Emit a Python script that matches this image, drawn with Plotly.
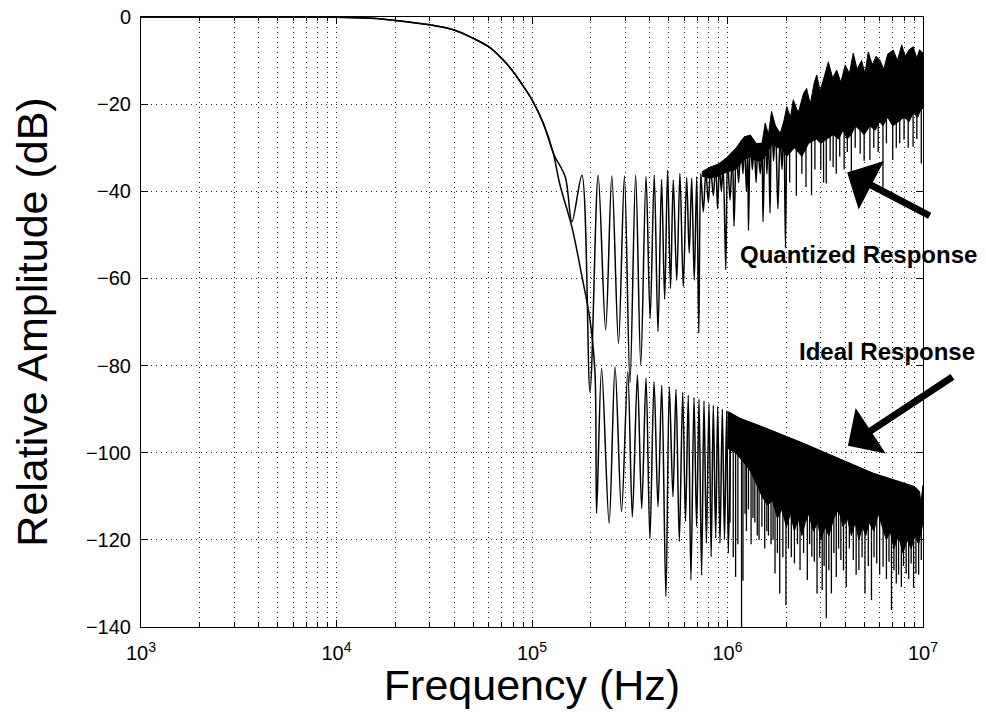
import plotly.graph_objects as go

# ---------------- data ----------------
# shared passband (Hz, dB)
passband_f = [1e3, 5e3, 1e4, 1.5e4, 2e4, 3e4, 4e4, 5e4, 6e4, 7e4, 8e4, 9e4, 1e5, 1.14e5, 1.28e5]
passband_db = [0, 0, -0.05, -0.3, -0.8, -1.8, -3.0, -4.9, -6.8, -9.5, -12.5, -15.8, -19.0, -24.3, -31.0]

# ideal response: transition band and individually visible sidelobes (peak / null)
ideal_stop_f = [1.39e5, 1.6e5, 1.8e5, 1.98e5, 2.1e5,
                2.14e5, 2.27e5, 2.48e5, 2.66e5, 2.87e5, 3.09e5, 3.26e5, 3.46e5, 3.64e5, 3.83e5,
                4.01e5, 4.21e5, 4.41e5, 4.61e5, 4.84e5, 5.04e5, 5.26e5, 5.45e5, 5.67e5, 5.9e5,
                6.1e5, 6.3e5, 6.5e5, 6.74e5, 6.95e5, 7.15e5, 7.37e5, 7.58e5, 7.8e5, 8.04e5,
                8.25e5, 8.46e5, 8.7e5, 8.91e5, 9.15e5, 9.41e5, 9.65e5, 9.9e5, 1.01e6, 1.04e6]
ideal_stop_db = [-38.5, -48.2, -59.5, -69.5, -81.7,
                 -113.9, -80.6, -116.2, -80.3, -113.5, -81.4, -114.7, -82.2, -112.8, -82.9,
                 -119.7, -83.7, -112.4, -84.5, -133.0, -84.9, -110.1, -85.5, -120.4, -86.2,
                 -115.8, -86.8, -129.2, -87.3, -117.0, -87.7, -128.1, -88.1, -120.8, -88.7,
                 -123.9, -89.1, -119.6, -89.4, -120.8, -90.0, -120.0, -90.4, -123.1, -90.8]

# ideal response: dense sidelobe band (upper envelope, solid floor, deep nulls)
ideal_env_f = [1.0e6, 1.16e6, 1.5e6, 1.93e6, 2.5e6, 3.09e6, 4.2e6, 5.57e6, 7.3e6, 9.1e6, 9.6e6, 9.75e6, 1e7]
ideal_env_db = [-90.5, -92.1, -94.0, -95.9, -98.0, -99.8, -102.4, -104.7, -106.4, -107.8, -108.9, -111.5, -107.5]
ideal_floor_f = [1.0e6, 1.1e6, 1.2e6, 1.3e6, 1.4e6, 1.5e6, 1.6e6, 1.7e6, 1.8e6, 1.9e6, 2.0e6, 2.1e6,
                 2.2e6, 2.3e6, 2.4e6, 2.5e6, 2.6e6, 2.75e6, 2.9e6, 3.0e6, 3.15e6, 3.3e6, 3.5e6, 3.7e6,
                 3.9e6, 4.1e6, 4.3e6, 4.5e6, 4.7e6, 4.9e6, 5.1e6, 5.3e6, 5.6e6, 5.9e6, 6.2e6, 6.5e6,
                 6.8e6, 7.1e6, 7.5e6, 7.9e6, 8.3e6, 8.7e6, 9.1e6, 9.5e6, 1e7]
ideal_floor_db = [-99, -100, -102, -104, -107, -110, -112, -111, -115, -113, -117, -114,
                  -118, -115, -119, -116, -114, -118, -116, -120, -117, -119, -115, -113,
                  -117, -115, -119, -116, -120, -117, -119, -116, -118, -114, -117, -120,
                  -118, -122, -119, -123, -120, -122, -119, -121, -116]
ideal_null_f = [1.03e6, 1.07e6, 1.1e6, 1.13e6, 1.18e6, 1.2e6, 1.23e6, 1.25e6, 1.28e6, 1.32e6, 1.35e6,
                1.38e6, 1.42e6, 1.45e6, 1.5e6, 1.55e6, 1.59e6, 1.62e6, 1.67e6, 1.71e6,
                1.75e6, 1.8e6, 1.85e6, 1.92e6, 1.99e6, 2.05e6, 2.12e6, 2.2e6, 2.28e6, 2.35e6,
                2.45e6, 2.56e6, 2.63e6, 2.7e6, 2.78e6, 2.87e6, 2.96e6, 3.05e6, 3.12e6, 3.2e6,
                3.3e6, 3.4e6, 3.5e6, 3.6e6, 3.7e6, 3.8e6, 3.92e6, 4.05e6, 4.2e6, 4.4e6,
                4.55e6, 4.7e6, 4.88e6, 5.05e6, 5.25e6, 5.45e6, 5.62e6, 5.8e6, 6.0e6, 6.25e6,
                6.5e6, 6.7e6, 6.9e6, 7.1e6, 7.3e6, 7.5e6, 7.75e6, 7.95e6, 8.2e6, 8.45e6,
                8.7e6, 8.95e6, 9.2e6, 9.5e6, 9.8e6]
ideal_null_db = [-116, -124, -128.5, -121, -140, -129.4, -114, -118, -113, -121, -115,
                 -116, -119, -120, -117, -122, -118, -119, -121, -120,
                 -127.7, -123, -132.3, -124, -135, -122, -124, -125.4, -121, -126.9,
                 -123, -129.2, -121, -123.9, -125, -132.3, -124, -131.5, -126, -138,
                 -127, -132.3, -123, -128.5, -122, -124.6, -127, -130.8, -122, -124.6,
                 -128, -126.9, -124, -132.3, -126, -133.8, -124, -125.4, -128, -126.2,
                 -129, -125, -136.1, -127, -130, -128, -130.8, -126, -127.7, -129,
                 -125.4, -131, -127.7, -128, -124.6]

# quantized response: stopband ripples and noisy rise up to 2 MHz
quant_stop_f = [1.31e5, 1.48e5, 1.6e5, 1.8e5, 1.98e5, 2.18e5, 2.38e5, 2.56e5, 2.77e5, 2.97e5,
                3.17e5, 3.39e5, 3.6e5, 3.83e5, 4.02e5, 4.22e5, 4.41e5, 4.6e5, 4.77e5, 4.94e5,
                5.11e5, 5.28e5, 5.5e5, 5.71e5, 5.94e5, 6.18e5, 6.37e5, 6.56e5, 6.76e5, 6.96e5,
                7.13e5, 7.3e5, 7.52e5, 7.75e5, 7.98e5, 8.2e5, 8.46e5, 8.7e5, 8.9e5, 9.1e5,
                9.3e5, 9.5e5, 9.8e5, 1.0e6, 1.03e6, 1.06e6, 1.08e6, 1.11e6, 1.14e6, 1.17e6,
                1.2e6, 1.22e6, 1.25e6, 1.27e6, 1.28e6, 1.31e6, 1.34e6, 1.37e6, 1.4e6, 1.43e6,
                1.47e6, 1.5e6, 1.52e6, 1.56e6, 1.59e6, 1.62e6, 1.65e6, 1.68e6, 1.72e6, 1.76e6,
                1.81e6, 1.86e6, 1.9e6, 1.94e6, 1.98e6, 2.01e6]
quant_stop_db = [-32.1, -36.7, -47.0, -36.3, -86.0, -36.3, -71.8, -36.5, -74.9, -36.5,
                 -84.0, -36.3, -79.9, -36.6, -69.2, -36.3, -72.2, -37.3, -64.8, -35.1,
                 -62.3, -37.4, -60.4, -35.9, -61.9, -36.8, -54.2, -37.0, -60.4, -36.6,
                 -72.5, -35.9, -44.7, -35.5, -42.5, -34.4, -41.0, -34.0, -44.0, -33.6,
                 -40.0, -34.0, -58.0, -32.1, -42.0, -31.0, -48.0, -30.0, -38.0, -28.5,
                 -36.0, -27.5, -40.0, -30.0, -49.0, -27.1, -35.0, -29.0, -38.0, -30.0,
                 -36.0, -29.0, -47.0, -24.4, -36.0, -27.0, -45.0, -21.7, -33.0, -25.0,
                 -44.0, -26.7, -35.0, -24.0, -53.0, -20.6]

# quantized response: dense noisy band (upper edge, solid floor, downward spikes)
quant_env_f = [7.4e5, 8.2e5, 8.7e5, 9.1e5, 1.0e6, 1.06e6, 1.11e6, 1.17e6, 1.22e6, 1.31e6, 1.4e6,
               1.5e6, 1.56e6, 1.62e6, 1.68e6, 1.76e6, 1.86e6, 1.94e6,
               2.01e6, 2.1e6, 2.17e6, 2.3e6, 2.45e6, 2.54e6, 2.65e6, 2.78e6, 2.86e6, 2.98e6,
               3.1e6, 3.28e6, 3.45e6, 3.62e6, 3.8e6, 4.0e6, 4.2e6, 4.4e6, 4.6e6, 4.85e6,
               5.05e6, 5.25e6, 5.5e6, 5.75e6, 6.02e6, 6.3e6, 6.6e6, 7.05e6, 7.4e6, 7.78e6,
               8.1e6, 8.5e6, 8.91e6, 9.3e6, 9.6e6, 1e7]
quant_env_db = [-35.5, -34.4, -34.0, -33.6, -32.1, -31.0, -30.0, -28.5, -27.5, -27.1, -29.0,
                -29.0, -24.4, -27.0, -21.7, -25.0, -26.7, -24.0,
                -20.6, -23, -19.0, -22, -17.5, -16.4, -20, -15, -13.3, -17,
                -14, -10.3, -14, -12.2, -15, -11, -13, -8.3, -12, -10,
                -13, -8.0, -11, -9, -9.9, -12, -8.5, -7.6, -10, -6.4,
                -9, -7.5, -6.8, -9.5, -7.5, -8.3]
quant_floor_f = [7.4e5, 8.0e5, 9.0e5, 1.0e6, 1.1e6, 1.2e6, 1.3e6, 1.4e6, 1.5e6, 1.6e6, 1.7e6, 1.8e6, 1.9e6,
                 2.01e6, 2.2e6, 2.4e6, 2.6e6, 2.85e6, 3.0e6, 3.2e6, 3.47e6, 3.7e6, 3.9e6,
                 4.1e6, 4.3e6, 4.5e6, 4.77e6, 5.0e6, 5.35e6, 5.7e6, 6.0e6, 6.24e6, 6.6e6,
                 7.0e6, 7.5e6, 8.0e6, 8.5e6, 8.9e6, 9.4e6, 9.8e6, 1e7]
quant_floor_db = [-36.5, -37, -36.5, -35.5, -35, -33, -32, -33, -33, -31, -29, -30, -30,
                  -32, -30, -32, -29, -28, -29, -28, -27, -28, -26,
                  -28, -27, -25, -26, -27, -25, -26, -24, -25, -23,
                  -25, -24, -23, -24, -22, -23, -21, -21]
quant_null_f = [2.08e6, 2.25e6, 2.4e6, 2.52e6, 2.69e6, 2.8e6, 3.0e6, 3.1e6, 3.2e6, 3.35e6, 3.47e6, 3.6e6,
                3.75e6, 3.95e6, 4.1e6, 4.3e6, 4.5e6, 4.77e6, 5.0e6, 5.35e6, 5.6e6, 5.9e6,
                6.24e6, 6.5e6, 7.0e6, 7.3e6, 7.6e6, 8.0e6, 8.4e6, 8.9e6, 9.3e6, 9.8e6]
quant_null_db = [-38, -41, -36, -39, -40.9, -35, -35.1, -38, -38.2, -33, -34.4, -36,
                 -32, -35, -31, -38.2, -30, -31.4, -33, -32.8, -30, -31,
                 -39.3, -29, -32.8, -30, -29, -28.2, -30, -29.8, -28, -33.6]

x_ticks = [1e3, 1e4, 1e5, 1e6, 1e7]
x_tick_text = ["10<sup>3</sup>", "10<sup>4</sup>", "10<sup>5</sup>", "10<sup>6</sup>", "10<sup>7</sup>"]
y_ticks = [-140, -120, -100, -80, -60, -40, -20, 0]
y_tick_text = ["\u2212140", "\u2212120", "\u2212100", "\u221280", "\u221260", "\u221240", "\u221220", "0"]

# ---------------- figure ----------------
fig = go.Figure()

SMOOTH = dict(color="black", width=1.5, shape="spline", smoothing=0.9)
fig.add_trace(go.Scatter(x=passband_f + ideal_stop_f, y=passband_db + ideal_stop_db,
                         mode="lines", line=SMOOTH, name="Ideal Response"))
fig.add_trace(go.Scatter(x=passband_f + quant_stop_f, y=passband_db + quant_stop_db,
                         mode="lines", line=SMOOTH, name="Quantized Response"))


def band(env_f, env_db, floor_f, floor_db):
    return go.Scatter(x=env_f + floor_f[::-1], y=env_db + floor_db[::-1], mode="lines",
                      fill="toself", fillcolor="black", line=dict(color="black", width=1),
                      hoverinfo="skip", showlegend=False)


def spikes(nf, ndb, base_f, base_db):
    # each deep null: vertical stroke from the band's solid floor level down to the null depth
    xs, ys = [], []
    j = 0
    for f, d in zip(nf, ndb):
        while j + 1 < len(base_f) and base_f[j + 1] <= f:
            j += 1
        xs += [f, f, None]
        ys += [base_db[j] + 4, d, None]
    return go.Scatter(x=xs, y=ys, mode="lines", line=dict(color="black", width=1.3),
                      hoverinfo="skip", showlegend=False)


fig.add_trace(band(ideal_env_f, ideal_env_db, ideal_floor_f, ideal_floor_db))
fig.add_trace(spikes(ideal_null_f, ideal_null_db, ideal_floor_f, ideal_floor_db))
fig.add_trace(band(quant_env_f, quant_env_db, quant_floor_f, quant_floor_db))
fig.add_trace(spikes(quant_null_f, quant_null_db, quant_floor_f, quant_floor_db))

GRID = dict(showgrid=True, gridcolor="#222222", gridwidth=1, griddash="1px,4px")
TICKFONT = dict(family="Liberation Sans, Arial, sans-serif", size=20, color="black")
TITLEFONT = dict(family="Liberation Sans, Arial, sans-serif", size=43, color="black")

fig.update_xaxes(type="log", range=[3, 7], tickmode="array", tickvals=x_ticks, ticktext=x_tick_text,
                 showline=True, linecolor="black", linewidth=1, mirror="ticks",
                 ticks="inside", ticklen=7, tickcolor="black", tickfont=TICKFONT,
                 ticklabelstandoff=8, ticklabeloverflow="allow",
                 minor=dict(dtick="D1", ticks="inside", ticklen=4, tickcolor="black",
                            showgrid=True, gridcolor="#222222", griddash="1px,4px", gridwidth=1),
                 title=dict(text="Frequency (Hz)", font=TITLEFONT, standoff=8),
                 zeroline=False, automargin=False, **GRID)
fig.update_yaxes(range=[-140, 0], tickmode="array", tickvals=y_ticks, ticktext=y_tick_text,
                 showline=True, linecolor="black", linewidth=1, mirror="ticks",
                 ticks="inside", ticklen=7, tickcolor="black", tickfont=TICKFONT,
                 ticklabelstandoff=5, ticklabeloverflow="allow",
                 title=dict(text="Relative Amplitude (dB)", font=TITLEFONT, standoff=38),
                 zeroline=False, automargin=False, **GRID)

ANN_FONT = dict(family="Liberation Sans, Arial, sans-serif", size=24, color="black")
fig.add_annotation(xref="paper", yref="paper", x=0.917, y=0.610, text="<b>Quantized Response</b>",
                   showarrow=False, font=ANN_FONT, xanchor="center", yanchor="middle")
fig.add_annotation(xref="paper", yref="paper", x=0.954, y=0.452, text="<b>Ideal Response</b>",
                   showarrow=False, font=ANN_FONT, xanchor="center", yanchor="middle")
fig.add_annotation(xref="paper", yref="paper", x=0.903, y=0.745, text="", showarrow=True,
                   ax=84, ay=44, arrowhead=1, arrowsize=1.3, arrowwidth=7, arrowcolor="black")
fig.add_annotation(xref="paper", yref="paper", x=0.904, y=0.297, text="", showarrow=True,
                   ax=106, ay=-70, arrowhead=1, arrowsize=1.3, arrowwidth=7, arrowcolor="black")

# the page body adds an 8 px offset; the figure is sized so the plot box lands where the reference has it
fig.update_layout(width=978, height=701, margin=dict(l=133, r=63, t=9, b=82),
                  plot_bgcolor="white", paper_bgcolor="white", showlegend=False)

fig.write_html("out.html")
